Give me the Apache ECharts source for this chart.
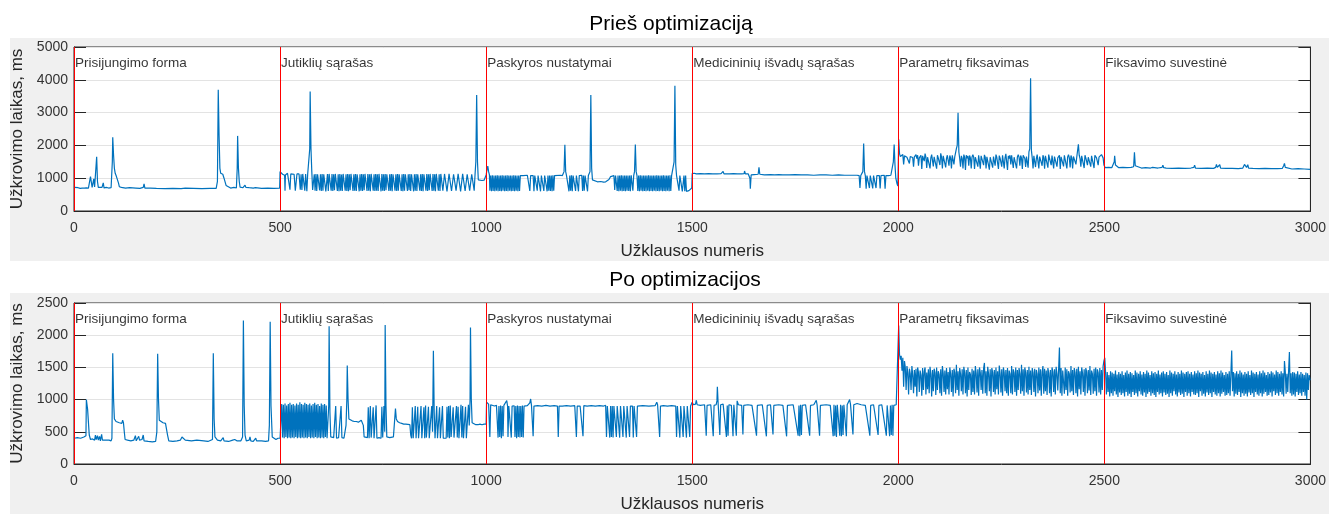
<!DOCTYPE html>
<html>
<head>
<meta charset="utf-8">
<script src="https://cdn.jsdelivr.net/npm/echarts@6/dist/echarts.min.js"></script>
<style>
html,body{margin:0;padding:0;background:#fff;width:1329px;height:514px;overflow:hidden;}
.panel{position:absolute;left:10px;width:1319px;background:#f0f0f0;}
#chart{position:absolute;left:0;top:0;width:1329px;height:514px;}
</style>
</head>
<body>
<div class="panel" style="top:38px;height:223px;"></div>
<div class="panel" style="top:293px;height:221px;"></div>
<div id="chart"></div>
<script>
// ---------- categories / labels ----------
const segmentNames = ['Prisijungimo forma','Jutiklių sąrašas','Paskyros nustatymai','Medicininių išvadų sąrašas','Parametrų fiksavimas','Fiksavimo suvestinė'];
const segmentStarts = [0,500,1000,1500,2000,2500];
const xTicks = [0,500,1000,1500,2000,2500,3000];
const yTicksBefore = [0,1000,2000,3000,4000,5000];
const yTicksAfter = [0,500,1000,1500,2000,2500];

// ---------- "Prieš optimizaciją" (before) ----------
const beforeLogin = [[1,720],[5,700],[10,710],[15,690],[20,700],[25,695],[30,705],[35,700],[38,760],[40,1050],[42,1000],[44,720],[46,740],[48,980],[50,730],[53,760],[55,1650],[57,900],[59,720],[63,700],[68,720],[71,860],[73,700],[78,720],[84,700],[90,710],[93,1500],[94,2250],[96,1700],[98,1300],[100,1150],[103,1050],[106,1000],[108,850],[110,740],[115,720],[125,700],[135,710],[150,700],[160,690],[168,720],[170,830],[172,700],[185,700],[200,690],[220,685],[240,690],[260,680],[270,700],[271,760],[273,680],[290,690],[310,680],[330,690],[345,690],[348,900],[350,3700],[352,2300],[354,1300],[356,1150],[358,1100],[361,1120],[364,1000],[367,980],[369,780],[372,720],[380,700],[388,720],[394,700],[396,1300],[397,2290],[399,1300],[401,900],[403,730],[410,710],[414,720],[415,790],[417,720],[425,710],[435,700],[440,710],[441,770],[443,700],[455,690],[470,700],[485,690],[499,700]];

const beforeSensors = [[500,1200],[502,1150],[504,1190],[506,1120],[508,1180],[510,1130],[511,1090],[512,620],[513,1100],[515,1130],[518,1150],[520,1120],[522,1130],[524,650],[526,1130],[530,1130],[534,1120],[537,620],[540,620],[541,1130],[546,1130],[549,650],[551,1120],[553,640],[555,1130],[558,1130],[560,620],[562,1130],[565,600],[567,1130],[570,1130],[572,1900],[573,3640],[575,1900],[577,1200],[579,640],[581,620],
[583,1120],[585,620],[587,1130],[589,610],[591,1120],[594,1130],[596,630],[598,1120],[600,610],[602,1130],[604,620],[606,1120],[609,1130],[611,600],[613,620],[615,1130],[617,610],[619,1130],[622,1120],[624,620],[626,1130],[628,610],[630,1120],[632,630],[634,1130],[637,1130],[639,610],[641,1120],[643,600],[645,1130],[647,620],[649,1110],[651,610],[653,1130],[656,1130],[658,620],[660,1120],[662,610],[664,1130],[666,600],[668,1120],[670,630],[672,1130],[675,1140],[677,610],[679,1120],[681,620],[683,1130],[685,610],[687,1120],[690,1130],[692,600],[694,1120],[696,620],[698,1130],[700,610],[702,1120],[704,630],[706,1130],[709,1120],[711,610],[713,1130],[715,620],[717,1120],[719,600],[721,1130],[724,1130],[726,620],[728,1120],[730,610],[732,1130],[734,620],[736,1120],[738,610],[740,1130],[743,1120],[745,600],[747,1130],[749,620],[751,1120],[753,610],[755,1130],[757,630],[759,1120],[762,1130],[764,610],[766,1120],[768,620],[770,1130],[772,600],[774,1120],[777,1130],[779,620],[781,1120],[783,610],[785,1130],[787,620],[789,1120],[792,1130],[794,610],[796,1120],[798,600],[800,1130],[802,620],[804,1120],[807,1130],[809,610],[811,1120],[813,630],[815,1130],[817,610],[819,1120],[822,1130],[824,600],[826,1120],[828,620],[830,1130],[832,610],[834,1120],[837,1130],[839,620],[841,1120],[843,610],[845,1130],[847,600],[849,1120],[852,1130],[854,620],[856,1130],[858,610],[860,1120],[862,630],[864,1130],[867,1120],[869,610],[871,1130],[873,620],[875,1120],[877,600],[879,1130],[882,1130],[884,620],[886,1120],[888,610],[890,1130],[893,1120],[895,620],[897,610],[899,1130],[903,1120],[905,600],[908,620],[910,1130],[914,1130],[916,610],[919,620],[921,1120],[925,1130],[927,620],[930,610],[932,1130],[936,1120],[938,600],[941,620],[943,1130],[947,1130],[949,610],[952,630],[954,1120],[958,1130],[960,620],[963,610],[965,1120],[969,1130],[971,620],[973,1100],[975,1500],[977,3540],[979,1500],[981,950],[985,940],[990,930],[995,940],[999,920]];

const beforeAccount = [[1000,1100],[1002,1250],[1004,1370],[1006,1200],[1008,1100],[1009,620],[1011,1080],[1013,600],[1015,1090],[1017,610],[1019,1080],[1021,600],[1023,1080],[1025,620],[1027,1090],[1029,600],[1031,1080],[1033,610],[1035,1080],[1037,600],[1039,1090],[1041,620],[1043,1080],[1045,600],[1047,1080],[1049,610],[1051,1090],[1053,600],[1055,1080],[1057,620],[1059,1080],[1061,600],[1063,1080],[1065,610],[1067,1090],[1069,600],[1071,1080],[1073,620],[1075,1080],[1077,600],[1079,1080],[1081,610],[1083,1080],[1090,1080],[1100,1090],[1104,1080],[1106,610],[1108,1080],[1114,1080],[1116,600],[1118,1080],[1122,1090],[1124,620],[1126,1080],[1130,1080],[1132,600],[1134,1080],[1138,1080],[1140,610],[1142,1080],[1146,1090],[1148,600],[1150,1080],[1152,620],[1154,1080],[1156,610],[1158,1080],[1160,600],[1162,1090],[1164,620],[1166,1080],[1170,1080],[1180,1090],[1185,1080],[1189,1200],[1191,2020],[1193,1200],[1195,1080],[1199,1080],[1201,600],[1203,1080],[1205,620],[1207,1090],[1209,600],[1211,1080],[1215,1080],[1217,610],[1219,1080],[1222,1080],[1224,600],[1226,1080],[1232,1090],[1234,610],[1236,1080],[1238,620],[1240,1080],[1244,1080],[1246,600],[1248,1080],[1252,1200],[1254,3540],[1256,1300],[1258,950],[1262,900],[1270,890],[1278,900],[1285,880],[1290,890],[1294,920],[1298,960],[1302,1050],[1306,1080],[1310,1080],[1312,640],[1314,1080],[1316,1090],[1318,610],[1320,1080],[1322,600],[1324,1080],[1326,620],[1328,1090],[1330,600],[1332,1080],[1334,610],[1336,1080],[1338,600],[1340,1080],[1342,620],[1344,1080],[1346,610],[1348,1080],[1350,600],[1352,1090],[1354,1080],[1356,620],[1358,1080],[1360,1200],[1362,2030],[1364,1200],[1366,1080],[1368,610],[1370,1080],[1372,600],[1374,1090],[1376,620],[1378,1080],[1380,600],[1382,1080],[1384,610],[1386,1080],[1388,600],[1390,1080],[1392,620],[1394,1090],[1396,600],[1398,1080],[1400,610],[1402,1080],[1404,600],[1406,1080],[1408,620],[1410,1080],[1412,600],[1414,1090],[1416,610],[1418,1080],[1420,600],[1422,1080],[1424,620],[1426,1080],[1428,600],[1430,1090],[1432,610],[1434,1080],[1436,600],[1438,1080],[1440,620],[1442,1080],[1444,600],[1446,1090],[1448,610],[1450,1080],[1454,1080],[1456,1500],[1458,3820],[1460,1400],[1462,1080],[1466,1080],[1468,620],[1470,1080],[1474,1090],[1476,600],[1478,620],[1480,1080],[1482,600],[1484,1080],[1486,600],[1488,640],[1492,620],[1496,640],[1499,700]];

const beforeMedical = [[1500,1140],[1505,1150],[1510,1130],[1520,1140],[1530,1130],[1540,1140],[1550,1130],[1560,1130],[1570,1140],[1574,1130],[1575,1210],[1577,1130],[1590,1130],[1600,1140],[1610,1130],[1620,1130],[1626,1140],[1627,1220],[1629,1130],[1636,1130],[1638,1100],[1640,1000],[1641,680],[1643,1100],[1645,1120],[1650,1110],[1660,1120],[1662,1330],[1664,1120],[1675,1100],[1690,1110],[1700,1100],[1710,1110],[1720,1100],[1735,1100],[1750,1110],[1765,1100],[1780,1100],[1795,1090],[1810,1100],[1825,1100],[1826,1160],[1828,1100],[1840,1090],[1855,1100],[1870,1090],[1885,1090],[1900,1090],[1905,1080],[1907,700],[1909,1080],[1912,1080],[1914,1200],[1916,2060],[1918,1200],[1920,1080],[1922,680],[1924,1080],[1928,1080],[1930,700],[1932,1080],[1936,1090],[1938,690],[1940,1080],[1944,1080],[1946,700],[1948,1080],[1954,1080],[1956,690],[1958,1080],[1966,1090],[1968,680],[1970,1080],[1976,1080],[1978,1100],[1982,1090],[1986,1150],[1988,1500],[1990,2030],[1992,1400],[1994,1000],[1997,830],[1999,760]];

// values every 2 requests, starting at request 2001
const beforeParamStart = 2001, beforeParamStep = 2;
const beforeParamY = [
2190,1750,1660,1700,1640,1720,1420,1680,1650,1740,
1640,1700,1600,1450,1660,1700,1610,1630,1350,1650,
1680,1720,1600,1700,1380,1620,1650,1700,1280,1680,
1600,1520,1750,1640,1310,1640,1690,1600,1300,1620,
1720,1660,1360,1650,1600,1700,1290,1700,1620,1680,
1400,1760,1640,1300,1680,1650,1720,1330,1600,1700,
1640,1380,1690,1620,1300,1700,1660,1420,1650,1610,
1900,2000,2998,1800,1600,1350,1680,1600,1300,1720,
1640,1250,1700,1610,1680,1380,1690,1620,1300,1650,
1720,1640,1280,1640,1600,1700,1350,1700,1660,1290,
1680,1620,1720,1400,1710,1640,1300,1650,1690,1620,
1260,1640,1700,1660,1320,1660,1600,1380,1720,1640,
1700,1280,1690,1610,1650,1350,1700,1650,1300,1620,
1740,1680,1250,1680,1600,1700,1420,1700,1640,1310,
1640,1690,1600,1300,1650,1720,1640,1380,1690,1620,
1280,1700,1650,1600,1340,1660,1700,1320,1800,1900,
4047,1850,1620,1300,1680,1650,1340,1600,1720,1660,
1300,1660,1640,1700,1380,1700,1620,1290,1680,1650,
1700,1320,1720,1600,1660,1400,1690,1640,1300,1660,
1710,1620,1350,1620,1680,1700,1280,1650,1690,1600,
1360,1700,1640,1680,1300,1650,1720,1620,1330,1690,
1620,1300,1660,1700,1640,1420,1640,1650,2034,1700,
1600,1350,1680,1650,1700,1310,1700,1620,1680,1400,
1640,1700,1600,1350,1680,1650,1720,1310,1700,1640,
1620,1680,1400,1640,1700,1650,1720,1660,1620,1400];

const beforeSummary = [[2500,1400],[2502,1320],[2510,1330],[2518,1320],[2522,1340],[2524,1500],[2525,1680],[2527,1400],[2530,1350],[2535,1320],[2545,1330],[2555,1320],[2565,1330],[2571,1350],[2573,1790],[2575,1380],[2578,1320],[2590,1310],[2600,1320],[2612,1310],[2617,1330],[2618,1380],[2620,1310],[2630,1310],[2640,1330],[2642,1400],[2644,1320],[2650,1310],[2665,1300],[2680,1310],[2695,1300],[2710,1310],[2717,1330],[2719,1400],[2721,1310],[2735,1300],[2750,1310],[2765,1300],[2770,1330],[2772,1420],[2774,1330],[2777,1340],[2780,1410],[2782,1310],[2795,1300],[2810,1300],[2825,1290],[2836,1310],[2838,1350],[2840,1420],[2842,1360],[2845,1330],[2848,1410],[2850,1310],[2860,1300],[2875,1290],[2890,1300],[2905,1290],[2920,1290],[2932,1300],[2935,1380],[2937,1450],[2939,1330],[2942,1300],[2955,1280],[2970,1290],[2985,1280],[2999,1270]];

// ---------- "Po optimizacijos" (after) ----------
const afterLogin = [[1,400],[4,380],[8,410],[12,390],[16,400],[20,380],[24,420],[27,400],[29,440],[30,1000],[32,1000],[33,850],[35,650],[37,450],[40,380],[45,390],[50,370],[52,450],[54,380],[57,440],[59,370],[62,430],[64,360],[67,460],[69,370],[72,380],[76,370],[80,360],[85,370],[90,360],[92,400],[94,1720],[96,1000],[98,700],[102,660],[106,650],[110,640],[113,660],[116,630],[118,680],[120,640],[122,500],[124,380],[130,370],[138,360],[145,370],[149,440],[151,360],[155,380],[157,430],[159,370],[165,380],[168,450],[170,360],[180,350],[190,345],[198,350],[201,500],[203,1710],[205,1000],[207,680],[210,650],[216,640],[222,630],[225,600],[227,450],[230,360],[240,350],[250,360],[258,370],[262,420],[266,430],[270,370],[285,360],[298,370],[300,400],[302,360],[315,360],[325,350],[336,380],[338,1720],[340,700],[342,420],[348,370],[356,360],[362,410],[364,360],[375,350],[385,370],[390,380],[395,360],[405,360],[409,420],[411,2230],[413,900],[415,450],[418,360],[425,370],[427,420],[429,360],[435,350],[441,400],[443,360],[455,360],[465,350],[472,360],[474,600],[476,2210],[478,900],[481,420],[485,410],[490,380],[495,400],[499,430]];

const afterSensors = [[500,400],[502,430],[504,930],[506,410],[508,920],[510,400],[512,940],[514,420],[516,910],[518,400],[520,930],[522,410],[524,950],[526,400],[528,920],[530,410],[532,930],[534,400],[536,910],[538,420],[540,940],[542,400],[544,920],[546,410],[548,960],[550,400],[552,930],[554,410],[556,920],[558,400],[560,950],[562,410],[564,930],[566,400],[568,920],[570,420],[572,940],[574,400],[576,910],[578,410],[580,930],[582,400],[584,950],[586,420],[588,920],[590,400],[592,930],[594,410],[596,900],[598,400],[600,940],[602,410],[604,920],[606,400],[608,930],[610,420],[612,910],[614,400],[616,420],[618,900],[619,2140],[621,800],[623,420],[626,400],[630,410],[633,400],[635,900],[637,400],[642,410],[646,400],[648,900],[650,410],[655,400],[658,420],[660,600],[662,1000],[663,1530],[665,1000],[667,700],[670,680],[675,670],[680,660],[685,660],[690,650],[694,640],[697,680],[700,700],[702,600],[704,420],[708,400],[712,410],[714,880],[716,400],[719,900],[721,410],[724,400],[726,880],[728,400],[731,420],[733,910],[735,400],[740,410],[745,400],[747,890],[749,410],[752,900],[754,500],[755,2160],[757,900],[759,420],[762,400],[766,410],[770,400],[775,420],[778,420],[780,860],[782,700],[785,660],[790,640],[795,630],[800,620],[805,620],[810,615],[815,610],[817,450],[819,400],[821,880],[823,400],[826,410],[828,900],[830,400],[832,420],[834,890],[836,400],[840,410],[842,900],[844,400],[847,410],[849,880],[851,400],[853,910],[855,410],[858,400],[860,890],[862,400],[866,420],[868,900],[870,500],[872,1760],[874,800],[876,400],[878,410],[880,900],[882,400],[885,410],[887,880],[889,400],[892,420],[894,900],[896,400],[900,410],[903,400],[905,890],[907,410],[909,900],[911,400],[913,910],[915,420],[918,400],[920,880],[922,410],[925,400],[928,900],[930,410],[932,890],[934,400],[937,400],[939,920],[941,410],[943,900],[945,400],[948,410],[950,890],[952,400],[955,410],[957,920],[959,600],[961,1000],[962,2120],[964,1000],[966,640],[970,620],[975,610],[980,610],[985,620],[990,610],[995,620],[999,610]];

const afterAccount = [[1000,620],[1001,960],[1003,950],[1006,930],[1008,910],[1009,420],[1011,920],[1015,910],[1020,900],[1025,910],[1028,900],[1029,410],[1031,900],[1033,420],[1035,910],[1037,400],[1039,900],[1041,430],[1043,910],[1047,905],[1050,985],[1052,900],[1053,420],[1055,900],[1059,910],[1061,410],[1063,900],[1068,905],[1070,420],[1072,900],[1074,400],[1076,910],[1078,420],[1080,900],[1082,410],[1084,900],[1086,420],[1088,910],[1090,410],[1092,900],[1100,905],[1106,950],[1108,1010],[1110,910],[1112,900],[1114,430],[1116,900],[1125,905],[1135,900],[1145,910],[1155,900],[1165,905],[1173,900],[1175,420],[1177,900],[1185,900],[1195,905],[1205,900],[1215,905],[1219,420],[1221,900],[1228,900],[1235,430],[1237,905],[1245,900],[1255,905],[1265,900],[1275,905],[1285,900],[1290,910],[1292,420],[1294,900],[1298,900],[1300,410],[1302,900],[1304,420],[1306,900],[1308,410],[1310,900],[1314,910],[1316,420],[1318,900],[1322,900],[1324,410],[1326,900],[1330,905],[1332,420],[1334,900],[1338,900],[1340,410],[1342,900],[1346,900],[1348,420],[1350,900],[1355,900],[1357,410],[1359,900],[1363,905],[1365,420],[1367,900],[1380,905],[1395,900],[1410,905],[1414,960],[1416,920],[1419,900],[1421,420],[1423,900],[1430,905],[1440,900],[1450,905],[1460,900],[1462,420],[1464,900],[1468,900],[1470,410],[1472,900],[1476,900],[1478,420],[1480,900],[1484,900],[1486,410],[1488,900],[1492,900],[1494,420],[1496,900],[1499,910]];

const afterMedical = [[1500,960],[1503,920],[1508,930],[1510,990],[1512,920],[1520,910],[1530,920],[1534,440],[1536,910],[1545,920],[1551,430],[1553,910],[1558,920],[1560,980],[1561,1200],[1563,930],[1565,910],[1567,450],[1569,920],[1575,930],[1583,420],[1585,910],[1587,440],[1589,920],[1595,910],[1599,430],[1601,920],[1605,930],[1607,440],[1609,980],[1612,920],[1620,910],[1623,460],[1625,910],[1635,920],[1645,910],[1656,440],[1658,910],[1670,920],[1680,430],[1682,910],[1690,920],[1696,460],[1698,910],[1710,920],[1720,910],[1729,430],[1731,910],[1745,920],[1757,440],[1759,910],[1761,430],[1763,920],[1765,450],[1767,910],[1775,920],[1785,440],[1787,910],[1795,920],[1801,990],[1803,920],[1809,440],[1811,910],[1825,920],[1835,910],[1842,430],[1844,920],[1846,440],[1848,910],[1850,420],[1852,920],[1856,910],[1858,440],[1860,920],[1862,430],[1864,910],[1866,450],[1868,920],[1872,910],[1874,430],[1876,920],[1882,1000],[1884,930],[1890,460],[1892,920],[1900,940],[1910,920],[1920,910],[1931,440],[1933,910],[1940,920],[1951,450],[1953,910],[1960,920],[1971,440],[1973,910],[1977,920],[1979,430],[1981,910],[1983,450],[1985,920],[1987,440],[1989,910],[1995,920],[1999,930]];

// values every 2 requests, starting at request 2001
const afterParamStart = 2001, afterParamStep = 2;
const afterParamY = [
2150,1700,1620,1680,1450,1650,1200,1600,1500,1150,
1520,1420,1080,1480,1400,1150,1520,1380,1100,1460,
1200,1480,1050,1500,1420,1120,1450,1380,1060,1490,
1150,1440,1500,1080,1420,1160,1470,1100,1510,1400,
1050,1460,1130,1480,1420,1070,1500,1150,1440,1390,
1100,1470,1060,1520,1410,1120,1450,1080,1490,1160,
1430,1080,1500,1400,1120,1460,1050,1480,1420,1100,
1540,1150,1440,1060,1490,1400,1130,1470,1080,1510,
1420,1100,1460,1050,1500,1150,1430,1390,1070,1480,
1120,1450,1080,1520,1410,1110,1470,1060,1500,1420,
1150,1460,1090,1480,1570,1100,1440,1060,1510,1400,
1130,1470,1050,1490,1420,1120,1460,1080,1500,1160,
1440,1080,1530,1410,1110,1470,1060,1500,1420,1130,
1460,1100,1490,1060,1450,1400,1100,1520,1080,1470,
1420,1120,1500,1060,1460,1150,1490,1400,1090,1540,
1130,1470,1060,1500,1420,1110,1460,1080,1510,1150,
1450,1070,1490,1420,1120,1480,1050,1460,1400,1100,
1500,1140,1470,1060,1430,1520,1090,1480,1130,1450,
1070,1490,1410,1100,1460,1050,1500,1430,1120,1470,
1080,1510,1400,1140,1460,1810,1100,1490,1060,1450,
1420,1090,1500,1150,1470,1060,1440,1400,1110,1520,
1130,1460,1070,1490,1420,1100,1480,1050,1510,1160,
1440,1080,1500,1410,1120,1470,1060,1490,1430,1100,
1460,1140,1520,1070,1450,1400,1090,1480,1130,1500,
1060,1470,1420,1110,1490,1080,1460,1150,1520,1600];

// values every 2 requests, starting at request 2501
const afterSummaryStart = 2501, afterSummaryStep = 2;
const afterSummaryY = [
1650,1420,1080,1430,1120,1380,1050,1440,1100,1420,
1060,1400,1130,1450,1080,1390,1040,1430,1110,1400,
1070,1440,1100,1380,1050,1420,1120,1450,1060,1400,
1090,1430,1040,1410,1120,1380,1070,1450,1100,1420,
1050,1400,1130,1440,1080,1390,1060,1430,1110,1400,
1040,1450,1090,1420,1120,1380,1060,1440,1100,1410,
1070,1430,1040,1400,1120,1450,1080,1390,1100,1420,
1050,1440,1110,1400,1070,1430,1090,1380,1040,1450,
1100,1420,1060,1400,1130,1440,1080,1390,1050,1430,
1110,1400,1070,1450,1090,1420,1040,1400,1120,1430,
1060,1440,1100,1400,1050,1430,1120,1390,1080,1440,
1070,1410,1100,1450,1040,1420,1130,1400,1060,1430,
1090,1380,1050,1440,1110,1400,1070,1450,1100,1420,
1040,1400,1120,1430,1080,1390,1060,1440,1100,1410,
1050,1450,1090,1420,1120,1380,1060,1430,1070,1400,
1100,1440,1060,1400,1764,1130,1430,1050,1410,1090,
1440,1070,1400,1120,1450,1040,1420,1100,1390,1060,
1430,1090,1400,1050,1440,1110,1380,1070,1450,1100,
1420,1040,1400,1120,1430,1080,1390,1060,1440,1100,
1410,1050,1450,1090,1420,1120,1380,1060,1430,1070,
1400,1110,1440,1050,1420,1130,1390,1070,1450,1100,
1430,1060,1400,1120,1440,1080,1410,1050,1600,1430,
1090,1400,1120,1440,1738,1100,1410,1060,1430,1080,
1420,1050,1400,1120,1440,1070,1390,1100,1430,1060,
1400,1120,1380,1060,1420,1000,1410,1150,1380,1300];

// ---------- assemble ----------
function stepPairs(values, start, step) { return values.map((v, i) => [start + i * step, v]); }

const beforeData = [].concat(beforeLogin, beforeSensors, beforeAccount, beforeMedical,
  stepPairs(beforeParamY, beforeParamStart, beforeParamStep), beforeSummary);
const afterData = [].concat(afterLogin, afterSensors, afterAccount, afterMedical,
  stepPairs(afterParamY, afterParamStart, afterParamStep),
  stepPairs(afterSummaryY, afterSummaryStart, afterSummaryStep));

const FONT = 'Liberation Sans, Arial, Helvetica, sans-serif';
const AX = '#262626';
const LINE = '#0072BD';

function xAxisCfg(gridIndex) {
  return {
    type: 'value', gridIndex, min: xTicks[0], max: xTicks[xTicks.length - 1], interval: xTicks[1] - xTicks[0],
    name: 'Užklausos numeris', nameLocation: 'middle', nameGap: 32,
    nameTextStyle: { fontFamily: FONT, fontSize: 17, color: AX },
    axisLine: { show: true, onZero: false, lineStyle: { color: AX, width: 1 } },
    axisTick: { show: true, inside: true, length: 12, lineStyle: { color: AX } },
    axisLabel: { fontFamily: FONT, fontSize: 14, color: '#333', margin: 10, formatter: v => String(v) },
    splitLine: { show: false }
  };
}
function yAxisCfg(gridIndex, ticks, left) {
  return {
    type: 'value', gridIndex, position: left ? 'left' : 'right',
    min: ticks[0], max: ticks[ticks.length - 1], interval: ticks[1] - ticks[0],
    name: left ? 'Užkrovimo laikas, ms' : '', nameLocation: 'middle', nameGap: 43, nameRotate: 90,
    nameTextStyle: { fontFamily: FONT, fontSize: 17, color: AX },
    axisLine: { show: true, lineStyle: { color: AX, width: 1 } },
    axisTick: { show: true, inside: true, length: 12, lineStyle: { color: AX } },
    axisLabel: { show: left, fontFamily: FONT, fontSize: 14, color: '#333', margin: 6, formatter: v => String(v) },
    splitLine: { show: left, lineStyle: { color: '#e3e3e3', width: 1 } }
  };
}
function lineSeries(data, xi, yi) {
  return {
    type: 'line', xAxisIndex: xi, yAxisIndex: yi, data, showSymbol: false, symbol: 'none',
    sampling: null, animation: false, silent: true, clip: false, z: 5,
    lineStyle: { color: LINE, width: 1.2 },
    markLine: {
      silent: true, symbol: ['none', 'none'], animation: false, z: 10,
      label: { show: false },
      lineStyle: { color: '#ff0000', width: 1, type: 'solid' },
      data: segmentStarts.map(s => ({ xAxis: s }))
    }
  };
}
function labelSeries(xi, yi, yLevel) {
  return {
    type: 'scatter', xAxisIndex: xi, yAxisIndex: yi, symbolSize: 0, silent: true, animation: false, z: 12,
    data: segmentStarts.map((s, i) => ({ value: [s, yLevel], name: segmentNames[i] })),
    label: { show: true, position: 'right', distance: 1, formatter: p => p.name,
      fontFamily: FONT, fontSize: 13.5, color: '#000' }
  };
}

const chart = echarts.init(document.getElementById('chart'), null, { renderer: 'canvas' });
chart.setOption({
  backgroundColor: 'transparent',
  animation: false,
  title: [
    { text: 'Prieš optimizaciją', left: 666, textAlign: 'center', top: 9,
      textStyle: { fontFamily: FONT, fontSize: 21, fontWeight: 'normal', color: '#000' } },
    { text: 'Po optimizacijos', left: 680, textAlign: 'center', top: 265,
      textStyle: { fontFamily: FONT, fontSize: 21, fontWeight: 'normal', color: '#000' } }
  ],
  grid: [
    { left: 74, right: 18, top: 47, height: 164, show: true, backgroundColor: '#fff', borderColor: AX, borderWidth: 1, containLabel: false },
    { left: 74, right: 18, top: 303, height: 165, show: true, backgroundColor: '#fff', borderColor: AX, borderWidth: 1, containLabel: false }
  ],
  xAxis: [xAxisCfg(0), xAxisCfg(1)],
  yAxis: [yAxisCfg(0, yTicksBefore, true), yAxisCfg(0, yTicksBefore, false),
          yAxisCfg(1, yTicksAfter, true), yAxisCfg(1, yTicksAfter, false)],
  series: [
    lineSeries(beforeData, 0, 0),
    lineSeries(afterData, 1, 2),
    labelSeries(0, 0, 4500),
    labelSeries(1, 2, 2250)
  ]
});
</script>
</body>
</html>
